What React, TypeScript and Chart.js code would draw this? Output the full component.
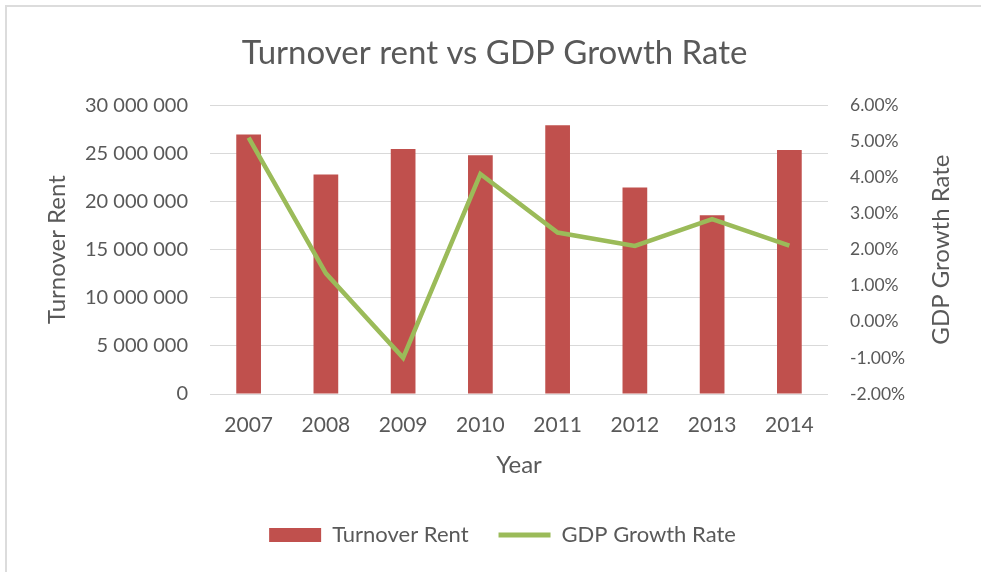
import React, { useEffect, useRef } from "react";
import { Chart, registerables } from "chart.js";

Chart.register(...registerables);

const years = ["2007", "2008", "2009", "2010", "2011", "2012", "2013", "2014"];
const turnoverRent = [26950000, 22800000, 25450000, 24800000, 27900000, 21450000, 18550000, 25350000];
const gdpGrowth = [5.1, 1.34, -1.0, 4.09, 2.47, 2.1, 2.84, 2.11];

const leftTicks = { min: 0, max: 30000000, step: 5000000 };
const rightTicks = { min: -2, max: 6, step: 1 };

const TEXT = "#595959";
const GRID = "#d9d9d9";
const RED = "#c0504d";
const GREEN = "#9bbb59";
const FONT = "Lato";

const fmtSpace = (v: number) =>
  Math.round(v).toString().replace(/\B(?=(\d{3})+(?!\d))/g, " ");

const rightTitlePlugin = {
  id: "rightTitle",
  afterLayout(chart: any) {
    // nudge title and legend horizontally to match the reference centring
    if (chart.titleBlock) {
      chart.titleBlock.left += 4;
      chart.titleBlock.right += 4;
    }
    if (chart.legend) {
      chart.legend.left += 12;
      chart.legend.right += 12;
    }
  },
  afterDraw(chart: any) {
    const { ctx, chartArea } = chart;
    const s = chart.scales.y1;
    ctx.save();
    ctx.translate(s.right - 40, (chartArea.top + chartArea.bottom) / 2);
    ctx.rotate(-Math.PI / 2);
    ctx.textAlign = "center";
    ctx.textBaseline = "middle";
    ctx.font = `24px ${FONT}`;
    ctx.fillStyle = TEXT;
    ctx.fillText("GDP Growth Rate", 0, 0);
    ctx.restore();
  },
};

export default function App() {
  const ref = useRef<HTMLCanvasElement | null>(null);

  useEffect(() => {
    if (!ref.current) return;
    const chart = new Chart(ref.current, {
      type: "bar",
      data: {
        labels: years,
        datasets: [
          {
            type: "bar",
            label: "Turnover Rent",
            data: turnoverRent,
            backgroundColor: RED,
            yAxisID: "y",
            order: 1,
            categoryPercentage: 0.32,
            barPercentage: 1,
          },
          {
            type: "line",
            label: "GDP Growth Rate",
            data: gdpGrowth,
            borderColor: GREEN,
            backgroundColor: GREEN,
            borderWidth: 4.5,
            pointRadius: 0,
            tension: 0,
            yAxisID: "y1",
            order: 0,
          } as any,
        ],
      },
      options: {
        responsive: false,
        animation: false,
        layout: { padding: { left: 0, right: 0, top: 0, bottom: 16 } },
        plugins: {
          tooltip: { enabled: false },
          title: {
            display: true,
            text: "Turnover rent vs GDP Growth Rate",
            color: TEXT,
            font: { family: FONT, size: 33, weight: "normal" as any },
            padding: { top: 33.5, bottom: 32 },
          },
          legend: {
            display: true,
            position: "bottom",
            labels: {
              color: TEXT,
              font: { family: FONT, size: 22 },
              usePointStyle: true,
              pointStyleWidth: 52,
              boxHeight: 14,
              padding: 30,
              generateLabels: (c: any) =>
                c.data.datasets.map((ds: any, i: number) =>
                  i === 0
                    ? {
                        text: ds.label,
                        fillStyle: RED,
                        strokeStyle: RED,
                        lineWidth: 0,
                        pointStyle: "rect",
                        datasetIndex: i,
                        fontColor: TEXT,
                      }
                    : {
                        text: ds.label,
                        fillStyle: GREEN,
                        strokeStyle: GREEN,
                        lineWidth: 5,
                        pointStyle: "line",
                        datasetIndex: i,
                        fontColor: TEXT,
                      }
                ),
            },
          },
        },
        scales: {
          x: {
            grid: { display: false, drawTicks: false },
            border: { display: false },
            ticks: { color: TEXT, font: { family: FONT, size: 21 }, padding: 19 },
            title: {
              display: true,
              text: "Year",
              color: TEXT,
              font: { family: FONT, size: 24 },
              padding: { top: 0, bottom: 14.6 },
            },
            afterFit: (s: any) => {
              s.height = 100;
            },
          },
          y: {
            position: "left",
            min: leftTicks.min,
            max: leftTicks.max,
            grid: { color: GRID, lineWidth: 1, drawTicks: false },
            border: { display: false },
            ticks: {
              stepSize: leftTicks.step,
              color: TEXT,
              font: { family: FONT, size: 20 },
              padding: 22,
              callback: (v: any) => fmtSpace(Number(v)),
            },
            title: {
              display: true,
              text: "Turnover Rent",
              color: TEXT,
              font: { family: FONT, size: 24 },
              padding: { top: 42.6, bottom: 0 },
            },
            afterFit: (s: any) => {
              s.width = 210;
            },
          },
          y1: {
            position: "right",
            min: rightTicks.min,
            max: rightTicks.max,
            grid: { display: false, drawTicks: false },
            border: { display: false },
            ticks: {
              stepSize: rightTicks.step,
              color: TEXT,
              font: { family: FONT, size: 17.5 },
              padding: 22,
              callback: (v: any) => Number(v).toFixed(2) + "%",
            },
            afterFit: (s: any) => {
              s.width = 153;
            },
          },
        },
      },
      plugins: [rightTitlePlugin],
    });
    return () => chart.destroy();
  }, []);

  return (
    <div
      style={{
        position: "fixed",
        left: 0,
        top: 0,
        width: 981,
        height: 572,
        overflow: "hidden",
        background: "#fff",
      }}
    >
      <div
        style={{
          position: "absolute",
          left: 5,
          top: 5,
          width: 1100,
          height: 700,
          borderTop: "2px solid #dcdcdc",
          borderLeft: "2px solid #dcdcdc",
        }}
      />
      <canvas
        ref={ref}
        width={981}
        height={572}
        style={{ position: "absolute", left: 0, top: 0, width: 981, height: 572 }}
      />
    </div>
  );
}
